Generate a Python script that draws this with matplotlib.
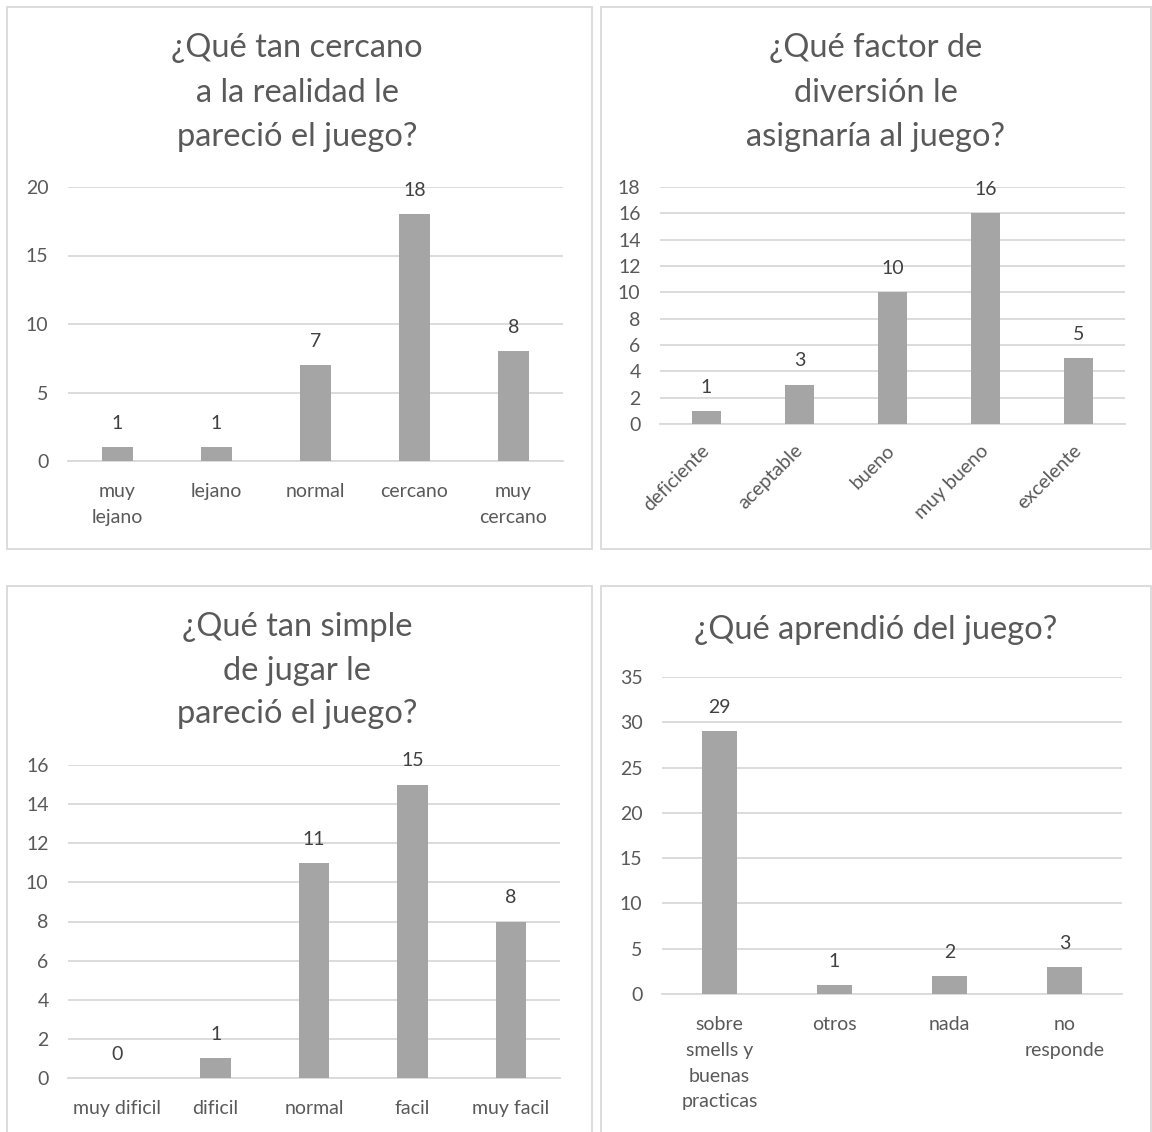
import matplotlib
matplotlib.use("Agg")
import matplotlib.pyplot as plt
from matplotlib.patches import Rectangle

plt.rcParams['font.family'] = ['Lato', 'DejaVu Sans']

W, H = 1152, 1132

# --- data -------------------------------------------------------------
realismo_cats = ["muy\nlejano", "lejano", "normal", "cercano", "muy\ncercano"]
realismo_vals = [1, 1, 7, 18, 8]

diversion_cats = ["deficiente", "aceptable", "bueno", "muy bueno", "excelente"]
diversion_vals = [1, 3, 10, 16, 5]

simpleza_cats = ["muy dificil", "dificil", "normal", "facil", "muy facil"]
simpleza_vals = [0, 1, 11, 15, 8]

aprendizaje_cats = ["sobre\nsmells y\nbuenas\npracticas", "otros", "nada", "no\nresponde"]
aprendizaje_vals = [29, 1, 2, 3]

titles = [
    ["¿Qué tan cercano", "a la realidad le", "pareció el juego?"],
    ["¿Qué factor de", "diversión le", "asignaría al juego?"],
    ["¿Qué tan simple", "de jugar le", "pareció el juego?"],
    ["¿Qué aprendió del juego?"],
]

BAR = "#A5A5A5"
GRID = "#D9D9D9"
TXT = "#595959"
LBL = "#404040"
FS = 14

fig = plt.figure(figsize=(W / 100, H / 100), dpi=100)
fig.patch.set_facecolor("white")


def fx(px):
    return px / W


def fy(py):
    return 1 - py / H


# panel frames (pixel boxes: x0, y0, x1, y1)
frames = [(7, 7, 592, 549), (601, 7, 1151, 549), (7, 586, 592, 1140), (601, 586, 1151, 1140)]
for x0, y0, x1, y1 in frames:
    fig.patches.append(Rectangle((fx(x0), fy(y1)), fx(x1) - fx(x0), fy(y0) - fy(y1),
                                 transform=fig.transFigure, fill=False,
                                 edgecolor=GRID, linewidth=1.3))

# titles: (center x, first line y, line step)
title_pos = [(297, 48, 44.5), (876, 48, 44.5), (297, 627, 43.5), (876, 630, 44)]
for lines, (cx, y0, step) in zip(titles, title_pos):
    for i, line in enumerate(lines):
        fig.text(fx(cx), fy(y0 + i * step), line, ha="center", va="center",
                 fontsize=23.5, color=TXT)


def bar_panel(box, cats, vals, ymax, ystep, rotate=False):
    x0, ytop, x1, ybot = box
    ax = fig.add_axes([fx(x0), fy(ybot), fx(x1) - fx(x0), fy(ytop) - fy(ybot)])
    xs = list(range(len(cats)))
    ax.bar(xs, vals, width=0.31, color=BAR, zorder=3)
    ax.set_xlim(-0.5, len(cats) - 0.5)
    ax.set_ylim(0, ymax)
    ax.set_yticks(list(range(0, ymax + 1, ystep)))
    ax.yaxis.grid(True, color=GRID, linewidth=1.3, zorder=0)
    ax.set_axisbelow(True)
    for s in ["top", "right", "left"]:
        ax.spines[s].set_visible(False)
    ax.spines["bottom"].set_color(GRID)
    ax.spines["bottom"].set_linewidth(1.3)
    ax.tick_params(axis="y", length=0, pad=14, labelsize=FS, labelcolor=TXT)
    ax.tick_params(axis="x", length=0, labelsize=FS, labelcolor=TXT)
    ax.set_xticks(xs)
    if rotate:
        ax.set_xticklabels(cats, rotation=45, ha="right", va="center",
                           rotation_mode="anchor")
        ax.tick_params(axis="x", pad=17)
    else:
        ax.set_xticklabels(cats, linespacing=1.62)
        ax.tick_params(axis="x", pad=16)
    ax.set_facecolor("none")
    for x, v in zip(xs, vals):
        ax.annotate(str(v), (x, v), xytext=(0, 17), textcoords="offset points",
                    ha="center", va="center", fontsize=FS, color=LBL)
    return ax


bar_panel((68, 187, 563, 461), realismo_cats, realismo_vals, 20, 5)
bar_panel((660, 187, 1125, 424), diversion_cats, diversion_vals, 18, 2, rotate=True)
bar_panel((68, 765, 560, 1078), simpleza_cats, simpleza_vals, 16, 2)
bar_panel((662, 677, 1122, 994), aprendizaje_cats, aprendizaje_vals, 35, 5)

fig.savefig("out.png", dpi=100, facecolor="white")
